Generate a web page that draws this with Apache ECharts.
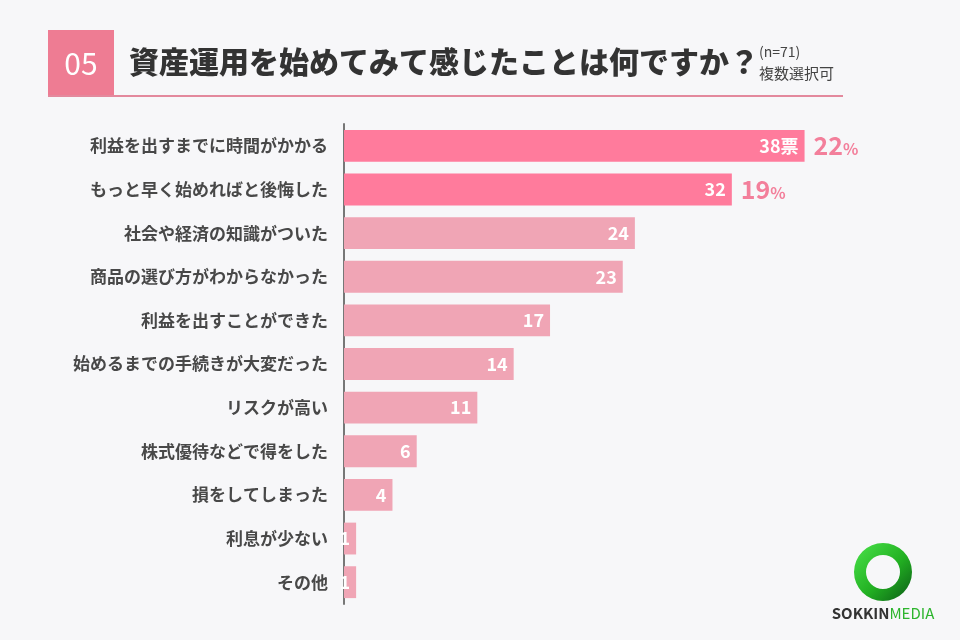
<!DOCTYPE html>
<html><head><meta charset="utf-8">
<script src="https://cdn.jsdelivr.net/npm/echarts@6/dist/echarts.min.js"></script>
<style>html,body{margin:0;padding:0;background:#F7F7F9;}#c{width:960px;height:640px;}</style>
</head><body><div id="c"></div>
<script>
const categories = ['利益を出すまでに時間がかかる','もっと早く始めればと後悔した','社会や経済の知識がついた','商品の選び方がわからなかった','利益を出すことができた','始めるまでの手続きが大変だった','リスクが高い','株式優待などで得をした','損をしてしまった','利息が少ない','その他'];
const votes = [38,32,24,23,17,14,11,6,4,1,1];
const percents = [22,19,null,null,null,null,null,null,null,null,null];
const titleText = '資産運用を始めてみて感じたことは何ですか？';
const questionNo = '05';
const sampleText = '(n=71)';
const noteText = '複数選択可';

const FONT = '"Noto Sans CJK JP","Noto Sans",sans-serif';
const HI = '#FF7B9C', LO = '#F0A5B5';
const chart = echarts.init(document.getElementById('c'));
chart.setOption({
  backgroundColor: '#F7F7F9',
  animation: false,
  grid: {left: 344, top: 124, width: 606, height: 480, containLabel: false},
  xAxis: {type: 'value', min: 0, max: 50, show: false},
  yAxis: {
    type: 'category', data: categories, inverse: true,
    axisLine: {show: true, lineStyle: {color: '#777', width: 2}},
    axisTick: {show: false},
    axisLabel: {margin: 16, color: '#484848', fontSize: 17, fontWeight: 'bold', fontFamily: FONT}
  },
  series: [
    {
      type: 'bar', data: votes.map((v, i) => ({value: v, itemStyle: {color: i < 2 ? HI : LO}})),
      barCategoryGap: '27%',
      label: {
        show: true, position: 'insideRight', distance: 6, color: '#fff', fontSize: 18, fontWeight: 'bold', fontFamily: FONT,
        formatter: p => p.dataIndex === 0 ? p.value + '票' : String(p.value)
      },
      z: 3
    },
    {
      type: 'bar', data: votes, barGap: '-100%', barCategoryGap: '27%',
      itemStyle: {color: 'rgba(0,0,0,0)'}, silent: true, z: 2,
      label: {
        show: true, position: 'right', distance: 9, fontFamily: FONT,
        formatter: p => percents[p.dataIndex] == null ? '' : '{a|' + percents[p.dataIndex] + '}{b|%}',
        rich: {
          a: {fontSize: 25, fontWeight: 'bold', color: '#F37F9B', fontFamily: FONT},
          b: {fontSize: 16, fontWeight: 'bold', color: '#F37F9B', fontFamily: FONT, padding: [6, 0, 0, 0]}
        }
      }
    }
  ],
  graphic: [
    {type: 'rect', shape: {x: 48, y: 30, width: 66, height: 66}, style: {fill: '#EE7C93'}},
    {type: 'text', x: 81, y: 64, style: {text: questionNo, fill: '#fff', font: '30px ' + FONT, align: 'center', verticalAlign: 'middle'}},
    {type: 'text', x: 129, y: 62, style: {text: titleText, fill: '#333', font: '900 30px ' + FONT, verticalAlign: 'middle'}},
    {type: 'text', x: 759, y: 52, style: {text: sampleText, fill: '#444', font: '14px ' + FONT, verticalAlign: 'middle'}},
    {type: 'text', x: 759, y: 73, style: {text: noteText, fill: '#444', font: '15px ' + FONT, verticalAlign: 'middle'}},
    {type: 'rect', shape: {x: 48, y: 95, width: 795, height: 2}, style: {fill: '#E3899D'}},
    {type: 'ring', shape: {cx: 883, cy: 572, r: 29, r0: 17}, style: {fill: new echarts.graphic.LinearGradient(0, 0, 1, 1, [{offset: 0, color: '#4BE34B'}, {offset: 0.55, color: '#22B022'}, {offset: 1, color: '#0B5A16'}])}},
    {type: 'text', x: 883, y: 613, style: {text: '{s|SOKKIN}{m|MEDIA}', align: 'center', verticalAlign: 'middle',
      rich: {s: {fontSize: 15, fontWeight: 'bold', fill: '#333', fontFamily: FONT}, m: {fontSize: 15, fill: '#2DB52D', fontFamily: FONT}}}}
  ]
});
</script></body></html>
